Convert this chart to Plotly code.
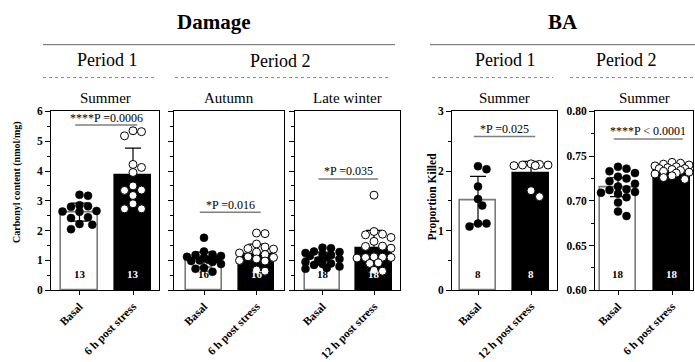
import numpy as np
import plotly.graph_objects as go

W, H = 695, 362
FONT = "Liberation Serif"

# ---------------- data ----------------
panel_titles = ["Summer", "Autumn", "Late winter", "Summer", "Summer"]
x_labels = [
    ["Basal", "6 h post stress"],
    ["Basal", "6 h post stress"],
    ["Basal", "12 h post stress"],
    ["Basal", "12 h post stress"],
    ["Basal", "6 h post stress"],
]

basal_p1_summer = [3.20, 3.17, 2.85, 2.82, 2.80, 2.66, 2.63, 2.64, 2.45, 2.42, 2.22, 2.20, 2.05]
stress_p1_summer = [5.35, 5.32, 5.18, 4.22, 4.12, 3.95, 3.50, 3.36, 3.35, 3.18, 2.90, 2.73, 2.73]

basal_p2_autumn = [1.76, 1.30, 1.20, 1.18, 1.15, 1.12, 1.10, 1.05, 1.02, 1.00, 0.98, 0.95, 0.88, 0.75, 0.72, 0.62]
stress_p2_autumn = [1.92, 1.90, 1.55, 1.45, 1.40, 1.38, 1.28, 1.25, 1.20, 1.12, 1.10, 1.05, 1.00, 0.98, 0.68, 0.64]

basal_p2_winter = [1.43, 1.41, 1.30, 1.28, 1.25, 1.20, 1.18, 1.15, 1.10, 1.05, 1.00, 0.95, 0.90, 0.88, 0.85, 0.80, 0.75, 0.72]
stress_p2_winter = [3.19, 1.97, 1.88, 1.86, 1.77, 1.64, 1.48, 1.47, 1.41, 1.12, 1.10, 1.08, 1.10, 1.11, 0.90, 0.92, 0.64, 0.67]

basal_ba_p1 = [2.08, 2.03, 1.74, 1.53, 1.42, 1.12, 1.12, 1.07]
stress_ba_p1 = [2.12, 2.10, 2.09, 2.10, 2.11, 2.09, 1.67, 1.57]

basal_ba_p2 = [0.738, 0.736, 0.733, 0.731, 0.727, 0.725, 0.722, 0.719, 0.716,
               0.713, 0.712, 0.710, 0.709, 0.708, 0.704, 0.698, 0.688, 0.683]
stress_ba_p2 = [0.743, 0.742, 0.741, 0.740, 0.739, 0.738, 0.737, 0.736, 0.736,
                0.735, 0.734, 0.733, 0.732, 0.731, 0.730, 0.728, 0.726, 0.724]

basal_sets = [basal_p1_summer, basal_p2_autumn, basal_p2_winter, basal_ba_p1, basal_ba_p2]
stress_sets = [stress_p1_summer, stress_p2_autumn, stress_p2_winter, stress_ba_p1, stress_ba_p2]

bar_means = [[2.62, 3.84], [1.03, 1.22], [1.06, 1.41], [1.51, 1.96], [0.7153, 0.7355]]
bar_sds = [[0.30, 0.93], [0.25, 0.33], [0.22, 0.60], [0.40, 0.20], [0.0105, 0.0045]]
n_labels = [[13, 13], [16, 16], [18, 18], [8, 8], [18, 18]]

p_labels = ["****P =0.0006", "*P =0.016", "*P =0.035", "*P =0.025", "****P < 0.0001"]
p_text_y = [5.77, 2.85, 3.99, 2.71, 0.778]
p_line_y = [5.54, 2.62, 3.73, 2.58, 0.769]

y_ranges = [[0, 6], [0, 6], [0, 6], [0, 3], [0.60, 0.80]]
y_dticks = [1, 1, 1, 1, 0.05]
show_y_labels = [True, False, False, True, True]

# ---------------- layout geometry (pixels) ----------------
# panel: left, right, basal centre, stress centre
panels_px = [
    (51, 159, 79.5, 133),
    (174, 284, 204, 256.5),
    (295, 400, 322.5, 374),
    (452, 557, 478, 531),
    (595, 693, 618, 672),
]
TOP, BOT = 109, 294


def px(x):
    return x / W


def py(y):
    return 1 - y / H


def swarm(values, cat, xppu, yppu, d=8.5, maxw=17.0):
    vals = np.asarray(values, dtype=float)
    order = np.argsort(-vals, kind="stable")
    placed = []
    offs = np.zeros(len(vals))
    cands = [0.0]
    k = 1
    while k * d / 2 <= maxw:
        cands += [k * d / 2, -k * d / 2]
        k += 1

    def clearance(c, ypix):
        if not placed:
            return 1e9
        return min(np.hypot(c - a, ypix - b) for a, b in placed)

    for i in order:
        ypix = vals[i] * yppu
        chosen = None
        for frac in (0.92, 0.75, 0.55):
            for c in cands:
                if clearance(c, ypix) >= d * frac:
                    chosen = c
                    break
            if chosen is not None:
                break
        if chosen is None:
            chosen = max(cands, key=lambda c: clearance(c, ypix))
        placed.append((chosen, ypix))
        offs[i] = chosen / xppu
    return cat + offs


fig = go.Figure()
layout = dict(
    width=W, height=H,
    margin=dict(l=0, r=0, t=0, b=0),
    paper_bgcolor="white", plot_bgcolor="white",
    showlegend=False,
    font=dict(family=FONT, color="black"),
    bargap=0,
)
annotations = []
shapes = []

for i in range(5):
    k = i + 1
    xa = "x" if k == 1 else f"x{k}"
    ya = "y" if k == 1 else f"y{k}"
    L, R, c0, c1 = panels_px[i]
    unit = c1 - c0
    lo = -(c0 - L) / unit
    hi = 1 + (R - c1) / unit
    yr = y_ranges[i]
    xppu = unit
    yppu = (BOT - TOP) / (yr[1] - yr[0])

    fig.add_trace(go.Bar(
        x=[0, 1], y=bar_means[i], width=0.68, xaxis=xa, yaxis=ya,
        marker=dict(color=["white", "black"], line=dict(color=["#7a7a7a", "black"], width=1.6)),
        error_y=dict(type="data", array=bar_sds[i], color="black", thickness=1.2, width=8),
    ))
    bx = swarm(basal_sets[i], 0, xppu, yppu)
    sx = swarm(stress_sets[i], 1, xppu, yppu)
    fig.add_trace(go.Scatter(
        x=bx, y=basal_sets[i], mode="markers", xaxis=xa, yaxis=ya,
        marker=dict(size=8, color="black", line=dict(color="black", width=0.5)),
    ))
    fig.add_trace(go.Scatter(
        x=sx, y=stress_sets[i], mode="markers", xaxis=xa, yaxis=ya,
        marker=dict(size=8, color="white", line=dict(color="black", width=1)),
    ))

    minor_dt = y_dticks[i] / 2
    layout["xaxis" if k == 1 else f"xaxis{k}"] = dict(
        domain=[px(L), px(R)], range=[lo, hi], anchor=ya,
        tickmode="array", tickvals=[0, 1], ticktext=x_labels[i],
        tickangle=-45, ticks="outside", ticklen=4, tickwidth=1, tickcolor="black",
        tickfont=dict(family=FONT, size=11.5, weight="bold"),
        showline=True, linecolor="black", linewidth=1, mirror=True,
        showgrid=False, zeroline=False, fixedrange=True,
    )
    layout["yaxis" if k == 1 else f"yaxis{k}"] = dict(
        domain=[py(BOT), py(TOP)], range=yr, anchor=xa,
        tick0=yr[0], dtick=y_dticks[i],
        tickformat=".2f" if i == 4 else "d",
        showticklabels=show_y_labels[i],
        ticks="outside", ticklen=5, tickwidth=1, tickcolor="black",
        minor=dict(dtick=minor_dt, tick0=yr[0], ticks="outside", ticklen=3, tickcolor="black"),
        tickfont=dict(family=FONT, size=11.5, weight="bold"),
        showline=True, linecolor="black", linewidth=1, mirror=True,
        showgrid=False, zeroline=False, fixedrange=True,
    )

    for j in range(2):
        annotations.append(dict(
            x=j, y=0.045, xref=xa, yref=f"{ya} domain",
            text=f"<b>{n_labels[i][j]}</b>", showarrow=False, xanchor="center",
            font=dict(family=FONT, size=11, color="black" if j == 0 else "white"),
        ))
    x1 = 1.2 if i == 4 else 1.08
    shapes.append(dict(type="line", xref=xa, yref=ya, x0=-0.08, x1=x1,
                       y0=p_line_y[i], y1=p_line_y[i],
                       line=dict(color="#7f7f7f", width=1.5)))
    annotations.append(dict(
        x=(-0.08 + x1) / 2, y=p_text_y[i], xref=xa, yref=ya, text=p_labels[i],
        showarrow=False, font=dict(family=FONT, size=12), xanchor="center", yanchor="middle",
    ))
    annotations.append(dict(
        x=px((L + R) / 2), y=py(95), xref="paper", yref="paper", text=panel_titles[i],
        showarrow=False, font=dict(family=FONT, size=15), xanchor="center", yanchor="middle",
    ))

headers = [
    ("<b>Damage</b>", 213, 17, 21),
    ("<b>BA</b>", 563, 17, 21),
    ("Period 1", 108, 56, 18),
    ("Period 2", 280, 57, 18),
    ("Period 1", 505, 56, 18),
    ("Period 2", 626, 56, 18),
]
for txt, x, y, s in headers:
    annotations.append(dict(x=px(x), y=py(y), xref="paper", yref="paper", text=txt,
                            showarrow=False, font=dict(family=FONT, size=s),
                            xanchor="center", yanchor="middle"))

for x0, x1 in [(43, 395), (430, 695)]:
    shapes.append(dict(type="line", xref="paper", yref="paper", x0=px(x0), x1=px(x1),
                       y0=py(40), y1=py(40), line=dict(color="#666666", width=1)))
for x0, x1 in [(43, 155), (175, 388), (432, 553), (570, 695)]:
    shapes.append(dict(type="line", xref="paper", yref="paper", x0=px(x0), x1=px(x1),
                       y0=py(74), y1=py(74), line=dict(color="#888888", width=1, dash="dot")))

annotations.append(dict(x=px(17), y=py(182), xref="paper", yref="paper",
                        text="<b>Carbonyl content (nmol/mg)</b>", textangle=-90,
                        showarrow=False, xanchor="center", yanchor="middle",
                        font=dict(family=FONT, size=10)))
annotations.append(dict(x=px(432), y=py(197), xref="paper", yref="paper",
                        text="<b>Proportion Killed</b>", textangle=-90,
                        showarrow=False, xanchor="center", yanchor="middle",
                        font=dict(family=FONT, size=11.5)))

layout["annotations"] = annotations
layout["shapes"] = shapes
fig.update_layout(**layout)
fig.write_html("out.html")
